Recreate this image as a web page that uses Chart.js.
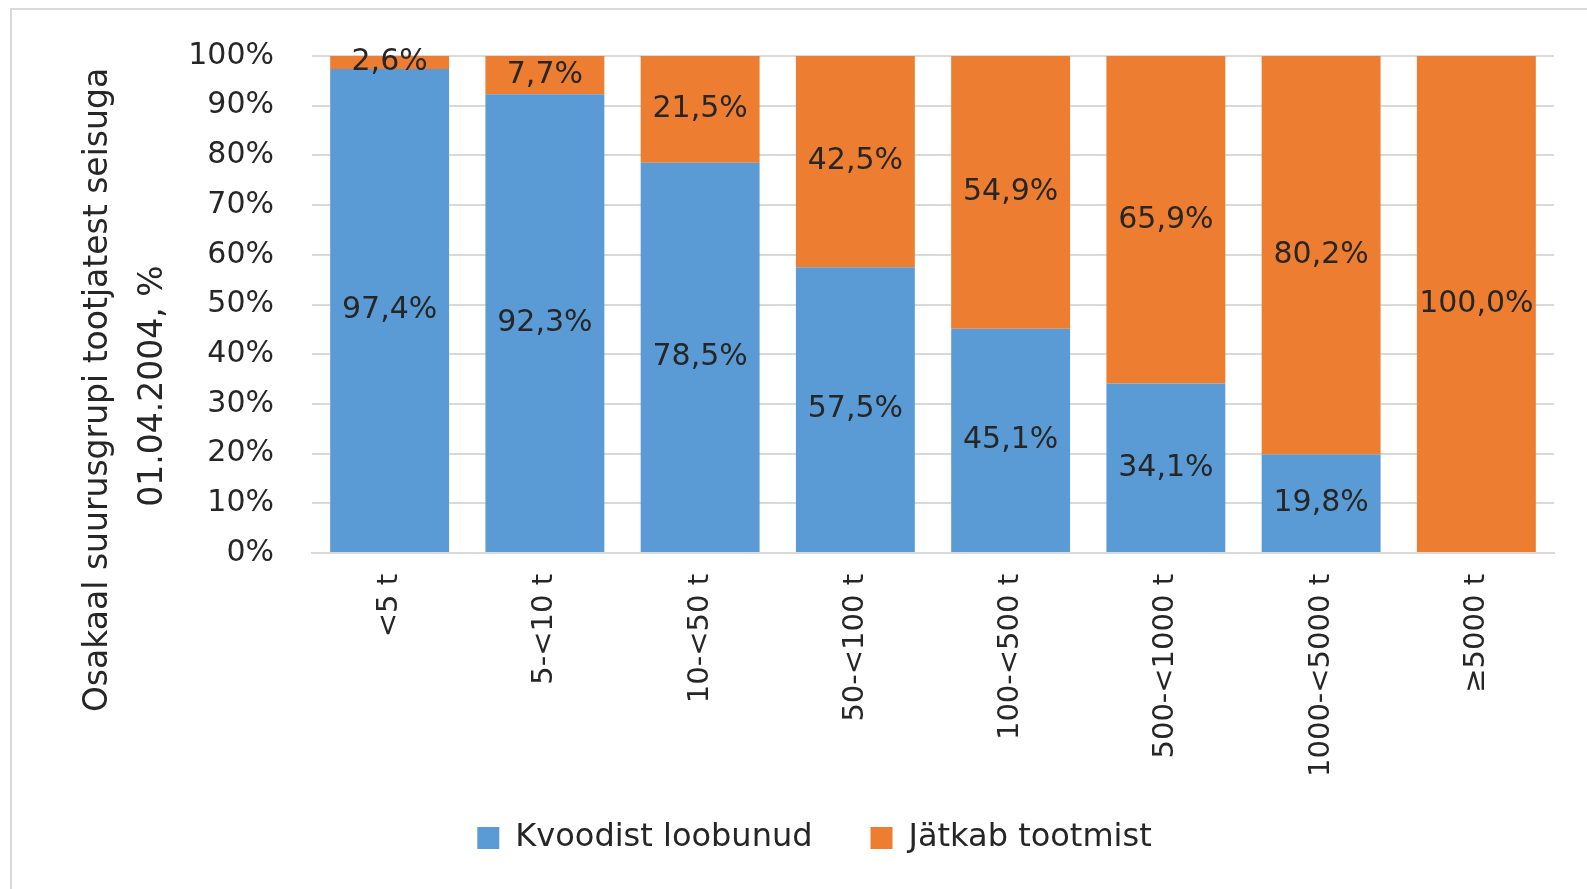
<!DOCTYPE html>
<html>
<head>
<meta charset="utf-8">
<script src="https://cdn.jsdelivr.net/npm/chart.js@4/dist/chart.umd.min.js"></script>
<style>
  html, body { margin: 0; padding: 0; background: #fff; }
  #wrap { width: 1587px; height: 889px; }
</style>
</head>
<body>
<div id="wrap"><canvas id="chart" width="1587" height="889"></canvas></div>
<script>
// andmed
const categories = ['<5 t', '5-<10 t', '10-<50 t', '50-<100 t', '100-<500 t', '500-<1000 t', '1000-<5000 t', '≥5000 t'];
const kvoodistLoobunud = [97.4, 92.3, 78.5, 57.5, 45.1, 34.1, 19.8, 0];
const jatkabTootmist = [2.6, 7.7, 21.5, 42.5, 54.9, 65.9, 80.2, 100.0];
const seriesNames = ['Kvoodist loobunud', 'Jätkab tootmist'];
const yTicks = [0, 10, 20, 30, 40, 50, 60, 70, 80, 90, 100];
const yTitle = ['Osakaal suurusgrupi tootjatest seisuga', '01.04.2004, %'];

const FONT = 'DejaVu Sans';
const TEXT = '#262626';

// raam ümber graafiku
const framePlugin = {
    id: 'frame',
    beforeDraw(chart) {
        const ctx = chart.ctx;
        ctx.save();
        ctx.fillStyle = '#fff';
        ctx.fillRect(0, 0, chart.width, chart.height);
        ctx.strokeStyle = '#d9d9d9';
        ctx.lineWidth = 2;
        ctx.beginPath();
        ctx.moveTo(11, chart.height);
        ctx.lineTo(11, 9);
        ctx.lineTo(chart.width, 9);
        ctx.stroke();
        ctx.restore();
    }
};

// x-telje sildid ei tohi ära lõigata (label clip kasutab scale.bottom)
const xClipPlugin = {
    id: 'xClip',
    afterLayout(chart) {
        chart.scales.x.bottom = chart.height;
    }
};

// y-telje pealkiri kahel real
const yTitlePlugin = {
    id: 'yTitle',
    afterDraw(chart) {
        const ctx = chart.ctx;
        ctx.save();
        ctx.font = `33px "${FONT}"`;
        ctx.fillStyle = TEXT;
        ctx.textAlign = 'center';
        ctx.textBaseline = 'middle';
        [[98, 390], [153, 386]].forEach(([x, y], i) => {
            ctx.save();
            ctx.translate(x, y);
            ctx.rotate(-Math.PI / 2);
            ctx.fillText(yTitle[i], 0, 0);
            ctx.restore();
        });
        ctx.restore();
    }
};

// väärtused tulpade sees
const labelPlugin = {
    id: 'barLabels',
    afterDatasetsDraw(chart) {
        const ctx = chart.ctx;
        ctx.save();
        ctx.font = `30px "${FONT}"`;
        ctx.fillStyle = TEXT;
        ctx.textAlign = 'center';
        ctx.textBaseline = 'middle';
        chart.data.datasets.forEach((ds, di) => {
            chart.getDatasetMeta(di).data.forEach((bar, i) => {
                const v = ds.data[i];
                if (!v) return;
                const p = bar.getProps(['x', 'y', 'base'], true);
                ctx.fillText(v.toFixed(1).replace('.', ',') + '%', p.x, (p.y + p.base) / 2);
            });
        });
        ctx.restore();
    }
};

new Chart(document.getElementById('chart'), {
    type: 'bar',
    data: {
        labels: categories,
        datasets: [
            { label: seriesNames[0], data: kvoodistLoobunud, backgroundColor: '#5b9bd5' },
            { label: seriesNames[1], data: jatkabTootmist, backgroundColor: '#ed7d31' }
        ]
    },
    options: {
        responsive: false,
        devicePixelRatio: 1,
        animation: false,
        layout: { padding: { left: 75, right: 33, top: 53, bottom: 25 } },
        datasets: { bar: { barPercentage: 1, categoryPercentage: 0.766 } },
        plugins: {
            legend: {
                position: 'bottom',
                labels: {
                    font: { family: FONT, size: 32 },
                    color: TEXT,
                    boxWidth: 22,
                    boxHeight: 22,
                    padding: 58
                }
            },
            tooltip: { enabled: false }
        },
        scales: {
            x: {
                stacked: true,
                grid: { display: false },
                border: { color: '#d9d9d9', width: 2 },
                ticks: {
                    font: { family: FONT, size: 29 },
                    color: TEXT,
                    maxRotation: 90,
                    minRotation: 90,
                    padding: 13
                },
                afterFit(scale) { scale.height = 211; }
            },
            y: {
                stacked: true,
                min: 0,
                max: 100,
                afterBuildTicks(scale) { scale.ticks = yTicks.map(v => ({ value: v })); },
                grid: { color: '#d9d9d9', lineWidth: 2, drawTicks: false },
                border: { display: false },
                ticks: {
                    font: { family: FONT, size: 30 },
                    color: TEXT,
                    padding: 38,
                    callback: v => v + '%'
                },
                afterFit(scale) { scale.width = 237; }
            }
        }
    },
    plugins: [framePlugin, xClipPlugin, yTitlePlugin, labelPlugin]
});
</script>
</body>
</html>
